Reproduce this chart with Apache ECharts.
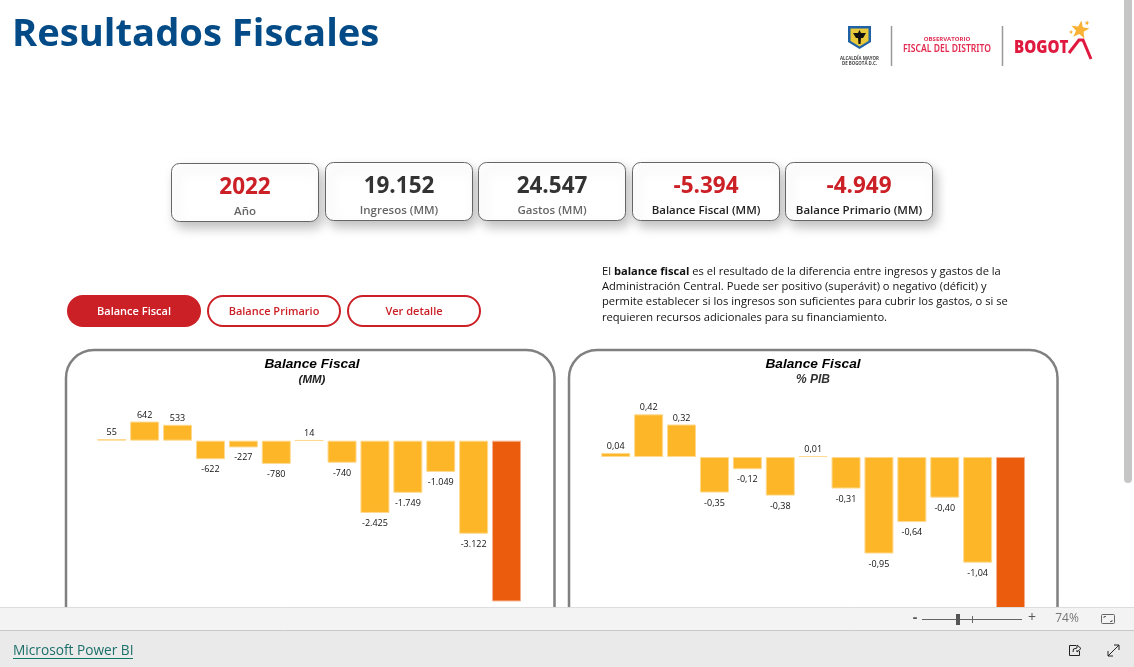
<!DOCTYPE html>
<html><head><meta charset="utf-8">
<style>html,body{margin:0;padding:0;background:#fff;overflow:hidden}#c{width:1134px;height:667px}</style>
<script src="https://cdn.jsdelivr.net/npm/echarts@6/dist/echarts.min.js"></script>
</head><body><div id="c"></div>
<script>
const periods = ['2010','2011','2012','2013','2014','2015','2016','2017','2018','2019','2020','2021','2022'];
const balanceMM = [55,642,533,-622,-227,-780,14,-740,-2425,-1749,-1049,-3122,-5394];
const balancePIB = [0.04,0.42,0.32,-0.35,-0.12,-0.38,0.01,-0.31,-0.95,-0.64,-0.40,-1.04,-1.65];
const kpiValues = ['2022','19.152','24.547','-5.394','-4.949'];
const kpiLabels = ['Año','Ingresos (MM)','Gastos (MM)','Balance Fiscal (MM)','Balance Primario (MM)'];
const buttonLabels = ['Balance Fiscal','Balance Primario','Ver detalle'];
const paragraph = ['{b|balance fiscal}','es el resultado de la diferencia entre ingresos y gastos de la','Administración Central. Puede ser positivo (superávit) o negativo (déficit) y','permite establecer si los ingresos son suficientes para cubrir los gastos, o si se','requieren recursos adicionales para su financiamiento.'];

const RED='#CC2027', FONT='"Open Sans"', BAR='#FCB627', LAST='#EB5C0C';
const chart = echarts.init(document.getElementById('c'),null,{renderer:'canvas',width:1134,height:667});
const g=[];
const T=(x,y,text,o={})=>g.push({type:'text',x,y,z:o.z||10,silent:true,scaleX:o.sx||1,style:{text,fill:o.c||'#222',font:`${o.i?'italic ':''}${o.w||'normal'} ${o.s||12}px ${o.f||FONT}`,align:o.a||'left',verticalAlign:'middle',rich:o.rich}});
const R=(x,y,w,h,o={})=>g.push({type:'rect',z:o.z||5,silent:true,shape:{x,y,width:w,height:h,r:o.r||0},style:{fill:o.fill||'none',stroke:o.stroke,lineWidth:o.lw||0,shadowBlur:o.sb||0,shadowColor:o.sc,shadowOffsetX:o.sx||0,shadowOffsetY:o.sy||0}});
const L=(pts,o={})=>g.push({type:'polyline',z:o.z||10,silent:true,shape:{points:pts},style:{fill:'none',stroke:o.c||'#222',lineWidth:o.lw||1}});
const P=(pts,fill,z)=>g.push({type:'polygon',z:z||10,silent:true,shape:{points:pts},style:{fill}});
const star=(cx,cy,r,rot)=>{const p=[];for(let i=0;i<10;i++){const a=rot+i*Math.PI/5,q=i%2?r*0.42:r;p.push([cx+q*Math.sin(a),cy-q*Math.cos(a)]);}return p;};

// title
T(12,35,'Resultados Fiscales',{s:38.2,w:'bold',c:'#034B87'});

// logos
P([[848,26],[871,26],[871,42],[859.5,49],[848,42]],'#1F63A6');
P([[850.5,28.5],[868.5,28.5],[868.5,41],[859.5,46.5],[850.5,41]],'#E9C83A');
P([[859.5,30],[861,33],[866,33],[863,38],[861,38],[860.5,44],[858.5,44],[858,38],[856,38],[853,33],[858,33]],'#111');
T(859.5,59,'ALCALDÍA MAYOR',{s:4.4,a:'center',c:'#444',w:'bold'});
T(859.5,64,'DE BOGOTÁ D.C.',{s:4.4,a:'center',c:'#444',w:'bold'});
L([[891.5,26],[891.5,66]],{c:'#999',lw:1.5});
L([[1002.5,26],[1002.5,66]],{c:'#999',lw:1.5});
T(947,39,'OBSERVATORIO',{s:6,a:'center',c:'#E2294F',w:'bold'});
T(947,49.5,'FISCAL DEL DISTRITO',{s:10,a:'center',c:'#E2294F',w:'600',f:'"Noto Sans"',sx:0.86});
T(1014,47.5,'BOGOT',{s:18,w:'800',c:'#E0193F',f:'"Open Sans"',sx:0.84});
L([[1069,53],[1079,40],[1083,40],[1091,59]],{c:'#E0193F',lw:3});
P(star(1080,30,9.5,0.15),'#F9B233');
P(star(1087,23,2.6,0.2),'#F9B233');
P(star(1071,32,2.2,0.2),'#F9B233');

// KPI cards
const cardX=[171,325,478,632,785], cardY=[163,162,162,162,162];
const valColors=[RED,'#333','#333',RED,RED], labColors=['#666','#666','#666','#222','#222'];
kpiValues.forEach((v,i)=>{
  R(cardX[i]+.5,cardY[i]+.5,147,58,{fill:'#fff',stroke:'#666',lw:1,r:8,sb:12,sc:'rgba(0,0,0,.26)',sx:4,sy:6});
});
kpiValues.forEach((v,i)=>{
  T(cardX[i]+74,cardY[i]+24.5,v,{s:22.5,w:'bold',c:valColors[i],a:'center'});
  T(cardX[i]+74,cardY[i]+48.5,kpiLabels[i],{s:11.5,w:'600',c:labColors[i],a:'center'});
});

// buttons
const btnX=[67,207,347];
buttonLabels.forEach((b,i)=>{
  if(i===0){R(btnX[i],295,134,32,{fill:RED,r:16});}
  else{R(btnX[i]+1,296,132,30,{fill:'#fff',stroke:RED,lw:2,r:15});}
  T(btnX[i]+67,312,b,{s:11,w:'600',c:i===0?'#fff':RED,a:'center'});
});

// paragraph
const PS=11.15, lineY=[271.5,286.5,302,317.5];
T(602,lineY[0],'El '+paragraph[0]+' '+paragraph[1],{s:PS,c:'#111',rich:{b:{fontWeight:'bold',fontSize:PS,fontFamily:FONT,fill:'#111'}}});
[2,3,4].forEach((k,i)=>T(602,lineY[i+1],paragraph[k],{s:PS,c:'#111'}));

// panels
R(66,350,488.5,300,{stroke:'#808080',lw:2.5,r:[28,28,0,0]});
R(569,350,488.5,300,{stroke:'#808080',lw:2.5,r:[28,28,0,0]});
const AR='"Liberation Sans"';
T(312,364.5,'Balance Fiscal',{s:13.7,w:'bold',i:1,c:'#000',a:'center',f:AR});
T(312,379.5,'(MM)',{s:11.5,w:'bold',i:1,c:'#222',a:'center',f:AR});
T(813,364.5,'Balance Fiscal',{s:13.7,w:'bold',i:1,c:'#000',a:'center',f:AR});
T(813,379.5,'% PIB',{s:12,w:'bold',i:1,c:'#333',a:'center',f:AR});

// footer
const Z=1000;
R(0,607,1134,23,{fill:'#F3F3F3',z:Z});
L([[0,607.5],[1134,607.5]],{c:'#DDD',z:Z+1});
R(0,630,1134,37,{fill:'#EAEAEA',z:Z});
L([[0,630.5],[1134,630.5]],{c:'#C8C8C8',z:Z+1});
T(13,651,'Microsoft Power BI',{s:13.7,c:'#1B6F6A',z:Z+1});
L([[13,658.5],[133,658.5]],{c:'#117865',z:Z+1});
T(915,618,'-',{s:14,w:'bold',c:'#555',a:'center',z:Z+1});
L([[922,619.5],[1022,619.5]],{c:'#666',z:Z+1});
L([[972.5,616],[972.5,623]],{c:'#666',z:Z+1});
R(956,614,4,11,{fill:'#555',z:Z+1});
T(1032,618.5,'+',{s:14,c:'#555',a:'center',z:Z+1});
T(1067,619,'74%',{s:12,c:'#777',a:'center',z:Z+1});
R(1101.5,614.5,13,9,{stroke:'#666',lw:1,r:1,z:Z+1});
L([[1104,618],[1104,616.5],[1106,616.5]],{c:'#666',z:Z+1});
L([[1112,620],[1112,621.5],[1110,621.5]],{c:'#666',z:Z+1});
L([[1076,645.5],[1069.5,645.5],[1069.5,655.5],[1079.5,655.5],[1079.5,651]],{c:'#222',z:Z+1});
L([[1073,652],[1073.5,649],[1077,648],[1077,645],[1081,648.5],[1077,652],[1077,650]],{c:'#222',z:Z+1});
L([[1108,656],[1119,645]],{c:'#222',z:Z+1});
L([[1114,645],[1119,645],[1119,650]],{c:'#222',z:Z+1});
L([[1108,651],[1108,656],[1113,656]],{c:'#222',z:Z+1});

// scrollbar
R(1124,0,8,483,{fill:'#C6C6C6',r:[0,0,4,4],z:Z+2});

const mk=(vals,fmt)=>({
  type:'bar',barWidth:29,silent:true,
  data:vals.map((v,i)=>({
    value:v,
    itemStyle:{color:i===vals.length-1?LAST:BAR,borderColor:i===vals.length-1?'#F6B08C':'#FFD98F',borderWidth:1},
    label:{position:v<0?'bottom':'top',distance:v<0?6:2}
  })),
  label:{show:true,fontSize:9,fontFamily:FONT,color:'#111',formatter:p=>fmt(p.value)}
});
const fmtMM=v=>(v<0?'-':'')+String(Math.abs(v)).replace(/\B(?=(\d{3})+$)/g,'.');
const fmtPIB=v=>v.toFixed(2).replace('.',',');
const S0=Object.assign(mk(balanceMM,fmtMM),{xAxisIndex:0,yAxisIndex:0});
const S1=Object.assign(mk(balancePIB,fmtPIB),{xAxisIndex:1,yAxisIndex:1});
chart.setOption({
  animation:false,
  grid:[{left:95.3,width:427.7,top:390,height:244.4},{left:599.3,width:427.7,top:385.9,height:274.3}],
  xAxis:[0,1].map(i=>({type:'category',gridIndex:i,data:periods,show:false})),
  yAxis:[
    {type:'value',gridIndex:0,min:-6500,max:1700,show:false},
    {type:'value',gridIndex:1,min:-2,max:0.7,show:false}
  ],
  series:[S0,S1],
  graphic:{elements:g}
});
</script></body></html>
